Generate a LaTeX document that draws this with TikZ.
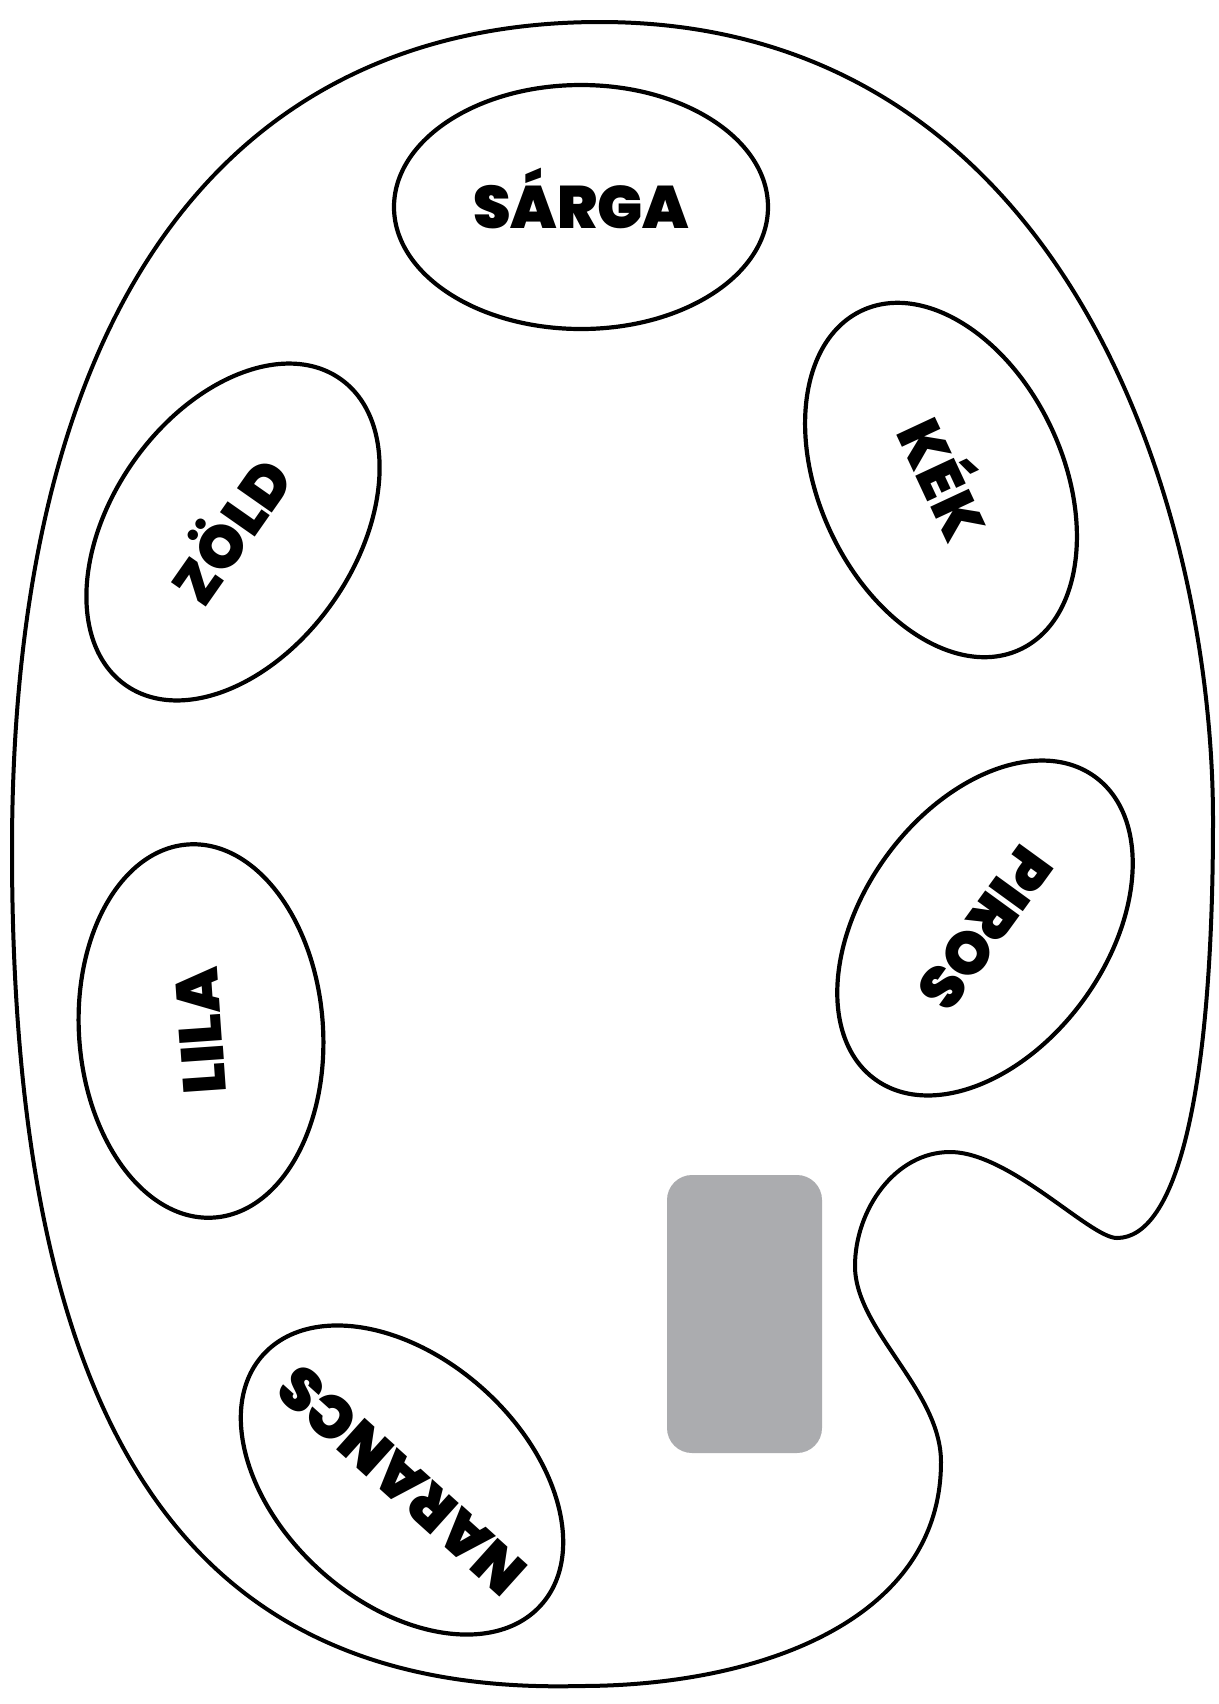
\documentclass[tikz,border=0pt]{standalone}
\usepackage{fontspec}
\IfFontExistsTF{Poppins Black}
  {\newfontfamily\labfont{Poppins Black}\newcommand\labweight{}}
  {\IfFontExistsTF{Poppins ExtraBold}
    {\newfontfamily\labfont{Poppins ExtraBold}\newcommand\labweight{}}
    {\newfontfamily\labfont{Poppins}\newcommand\labweight{\bfseries}}}
\usetikzlibrary{shapes.geometric}
\definecolor{paletgray}{RGB}{171,172,175}
\tikzset{
  well/.style={ellipse, draw=black, line width=2.1pt, minimum width=187pt, minimum height=122pt,
    inner sep=0pt, font=\labfont\labweight\fontsize{30}{30}\selectfont, text height=21pt, text depth=0pt},
  outline/.style={draw=black, line width=2pt, fill=white},
  rest/.style={fill=paletgray, rounded corners=12.5pt, minimum width=77.5pt, minimum height=139pt, inner sep=0pt}
}
\begin{document}
\begin{tikzpicture}[x=0.5pt, y=-0.5pt]
\useasboundingbox[fill=white] (0,0) rectangle (1219,1704);
\draw[outline] (600,22)
  .. controls (1066,22) and (1213,508) .. (1213,820)
  .. controls (1213,1100) and (1175,1238) .. (1117,1238)
  .. controls (1090,1238) and (1010,1152) .. (950,1152)
  .. controls (895,1152) and (855,1210) .. (855,1266)
  .. controls (855,1330) and (941,1390) .. (941,1462)
  .. controls (941,1620) and (760,1686) .. (580,1686)
  .. controls (200,1696) and (12,1450) .. (12,850)
  .. controls (12,290) and (240,22) .. (600,22) -- cycle;
\node[rest] (rest) at (744.5,1314) {};
\node[well, rotate=0]    (sarga)   at (581,207)  {\makebox[0pt]{SÁRGA}};
\node[well, rotate=-65]  (kek)     at (941,480)  {\makebox[0pt]{KÉK}};
\node[well, rotate=55]   (zold)    at (233,532)  {\makebox[0pt]{ZÖLD}};
\node[well, rotate=94]   (lila)    at (201,1031) {\makebox[0pt]{LILA}};
\node[well, rotate=-126] (piros)   at (985,928)  {\makebox[0pt]{PIROS}};
\node[well, rotate=138]  (narancs) at (402,1480) {\makebox[0pt]{NARANCS}};
\end{tikzpicture}
\end{document}
